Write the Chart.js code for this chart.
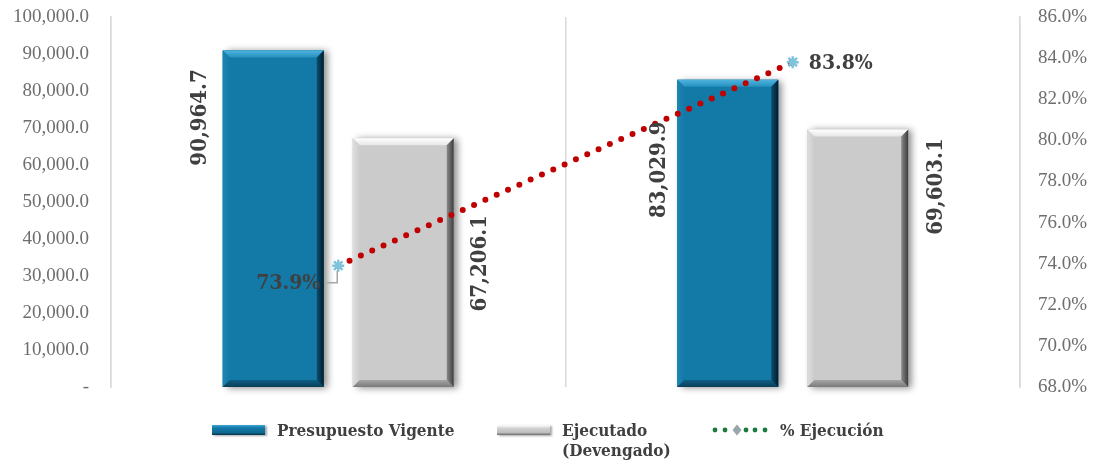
<!DOCTYPE html>
<html>
<head>
<meta charset="utf-8">
<script src="https://cdn.jsdelivr.net/npm/chart.js@4.4.1/dist/chart.umd.min.js"></script>
<style>
  html, body { margin: 0; padding: 0; background: #ffffff; }
  #wrap { position: relative; width: 1095px; height: 464px; }
  #c { position: absolute; left: 0; top: 0; }
  .lg { position: absolute; font-family: "DejaVu Serif Condensed", "DejaVu Serif", serif; font-weight: bold; font-size: 17px; color: #404040; line-height: 20px; white-space: nowrap; }
  .sw { position: absolute; width: 53px; height: 10px; }
</style>
</head>
<body>
<div id="wrap">
  <canvas id="c" width="1095" height="464"></canvas>
  <div class="sw" style="left:212px;top:425px;background:linear-gradient(to bottom,#3aa6d4 0,#1479a8 30%,#0f6a94 75%,#063348 100%);box-shadow:2px 1px 2px rgba(0,0,0,0.35);"></div>
  <div class="lg" style="left:277px;top:420px;">Presupuesto Vigente</div>
  <div class="sw" style="left:497px;top:425px;background:linear-gradient(to bottom,#ffffff 0,#d0d0d0 35%,#bdbdbd 75%,#6a6a6a 100%);box-shadow:2px 1px 2px rgba(0,0,0,0.35);"></div>
  <div class="lg" style="left:562px;top:420px;">Ejecutado<br>(Devengado)</div>
  <svg style="position:absolute;left:710px;top:423px;" width="62" height="14">
    <circle cx="5" cy="7" r="2.4" fill="#1a7a3a"/>
    <circle cx="15" cy="7" r="2.4" fill="#1a7a3a"/>
    <circle cx="45" cy="7" r="2.4" fill="#1a7a3a"/>
    <circle cx="55" cy="7" r="2.4" fill="#1a7a3a"/>
    <circle cx="36" cy="7" r="2.4" fill="#1a7a3a"/>
    <path d="M27 1.5 L31.5 7 L27 12.5 L22.5 7 Z" fill="#9aa6ad"/>
  </svg>
  <div class="lg" style="left:780px;top:420px;">% Ejecución</div>
</div>
<script>
// ---- data ----
const categories = ['Periodo 1', 'Periodo 2'];
const presupuestoVigente = [90964.7, 83029.9];
const ejecutadoDevengado = [67206.1, 69603.1];
const porcentajeEjecucion = [73.9, 83.8];
const leftTicks = [0, 10000, 20000, 30000, 40000, 50000, 60000, 70000, 80000, 90000, 100000];
const rightTicks = [68, 70, 72, 74, 76, 78, 80, 82, 84, 86];

// ---- style (label placement relative to marks) ----
const barLabelOffsets = [
  [[-73, 67], [-68, 90]],   // presupuesto: [dx from bar center, dy from bar top]
  [[77, 125], [79, 57]]     // ejecutado
];
const pctLabelOffsets = [[-50, 18], [48, 1]];

function fmtNum(v) {
  return v.toLocaleString('en-US', { minimumFractionDigits: 1, maximumFractionDigits: 1 });
}

const bevelPlugin = {
  id: 'bevel',
  beforeDatasetDraw(chart, args) {
    const ds = chart.data.datasets[args.index];
    if (ds.type !== 'bar') return;
    const ctx = chart.ctx;
    args.meta.data.forEach(el => {
      const l = el.x - el.width / 2, t = el.y, w = el.width, h = el.base - el.y;
      ctx.save();
      ctx.shadowColor = 'rgba(0,0,0,0.45)';
      ctx.shadowBlur = 7;
      ctx.shadowOffsetX = 4;
      ctx.shadowOffsetY = 1;
      ctx.fillStyle = ds.backgroundColor;
      ctx.fillRect(l, t, w, h);
      ctx.restore();
    });
  },
  afterDatasetDraw(chart, args) {
    const ds = chart.data.datasets[args.index];
    if (ds.type !== 'bar') return;
    const ctx = chart.ctx;
    const b = 7;
    const c = ds.bevel;
    args.meta.data.forEach(el => {
      const l = el.x - el.width / 2, r = el.x + el.width / 2, t = el.y, bo = el.base;
      ctx.save();
      let g = ctx.createLinearGradient(0, t, 0, t + b);
      g.addColorStop(0, c.top0); g.addColorStop(1, c.top1);
      ctx.fillStyle = g;
      ctx.beginPath(); ctx.moveTo(l, t); ctx.lineTo(r, t); ctx.lineTo(r - b, t + b); ctx.lineTo(l + b, t + b); ctx.closePath(); ctx.fill();
      g = ctx.createLinearGradient(l, 0, l + b, 0);
      g.addColorStop(0, c.left0); g.addColorStop(1, c.left1);
      ctx.fillStyle = g;
      ctx.beginPath(); ctx.moveTo(l, t); ctx.lineTo(l + b, t + b); ctx.lineTo(l + b, bo - b); ctx.lineTo(l, bo); ctx.closePath(); ctx.fill();
      g = ctx.createLinearGradient(0, bo - b, 0, bo);
      g.addColorStop(0, c.bot0); g.addColorStop(1, c.bot1);
      ctx.fillStyle = g;
      ctx.beginPath(); ctx.moveTo(l, bo); ctx.lineTo(l + b, bo - b); ctx.lineTo(r - b, bo - b); ctx.lineTo(r, bo); ctx.closePath(); ctx.fill();
      g = ctx.createLinearGradient(r - b, 0, r, 0);
      g.addColorStop(0, c.right0); g.addColorStop(1, c.right1);
      ctx.fillStyle = g;
      ctx.beginPath(); ctx.moveTo(r, t); ctx.lineTo(r, bo); ctx.lineTo(r - b, bo - b); ctx.lineTo(r - b, t + b); ctx.closePath(); ctx.fill();
      ctx.restore();
    });
  }
};

const labelPlugin = {
  id: 'labels',
  afterDatasetsDraw(chart) {
    const ctx = chart.ctx;
    ctx.save();
    ctx.fillStyle = '#404040';
    ctx.textAlign = 'center';
    ctx.textBaseline = 'middle';
    [0, 1].forEach(di => {
      const meta = chart.getDatasetMeta(di);
      meta.data.forEach((el, i) => {
        const off = barLabelOffsets[di][i];
        const v = chart.data.datasets[di].data[i];
        ctx.save();
        ctx.translate(el.x + off[0], el.y + off[1]);
        ctx.rotate(-Math.PI / 2);
        ctx.font = 'bold 22px "DejaVu Serif Condensed", "DejaVu Serif", serif';
        ctx.fillText(fmtNum(v), 0, 0);
        ctx.restore();
      });
    });
    const lm = chart.getDatasetMeta(2);
    lm.data.forEach((el, i) => {
      const off = pctLabelOffsets[i];
      const v = chart.data.datasets[2].data[i];
      const tx = el.x + off[0], ty = el.y + off[1];
      if (i === 0) {
        ctx.strokeStyle = '#a6a6a6';
        ctx.lineWidth = 1.5;
        ctx.beginPath();
        ctx.moveTo(tx + 39, ty - 1);
        ctx.lineTo(el.x - 1, ty - 1);
        ctx.lineTo(el.x - 1, el.y + 5);
        ctx.stroke();
      }
      ctx.font = 'bold 21px "DejaVu Serif Condensed", "DejaVu Serif", serif';
      ctx.fillStyle = '#404040';
      ctx.fillText(v.toFixed(1) + '%', tx, ty);
    });
    ctx.restore();
  }
};

function fixY(width) {
  return function (s) { s.width = width; s.paddingTop = 0; s.paddingBottom = 0; };
}

new Chart(document.getElementById('c'), {
  data: {
    labels: categories,
    datasets: [
      {
        type: 'bar', label: 'Presupuesto Vigente', data: presupuestoVigente, yAxisID: 'y',
        backgroundColor: '#1379a7', borderWidth: 0, order: 2,
        categoryPercentage: 0.572, barPercentage: 0.777,
        bevel: { top0: '#4fb4de', top1: '#2590bf', left0: '#1d86b4', left1: '#1479a8', bot0: '#0f5f86', bot1: '#093e59', right0: '#0a4f72', right1: '#031c29' }
      },
      {
        type: 'bar', label: 'Ejecutado (Devengado)', data: ejecutadoDevengado, yAxisID: 'y',
        backgroundColor: '#cbcbcb', borderWidth: 0, order: 2,
        categoryPercentage: 0.572, barPercentage: 0.777,
        bevel: { top0: '#ffffff', top1: '#e6e6e6', left0: '#dedede', left1: '#cccccc', bot0: '#a5a5a5', bot1: '#7a7a7a', right0: '#8a8a8a', right1: '#3c3c3c' }
      },
      {
        type: 'line', label: '% Ejecución', data: porcentajeEjecucion, yAxisID: 'y1',
        borderColor: '#c00000', borderWidth: 6, borderDash: [0, 12.4], borderCapStyle: 'round',
        pointStyle: 'star', pointRadius: 6, pointBorderWidth: 2.5,
        pointBorderColor: '#7ec3dc', pointBackgroundColor: '#7ec3dc',
        fill: false, order: 0, tension: 0
      }
    ]
  },
  options: {
    responsive: false,
    animation: false,
    devicePixelRatio: 1,
    layout: { padding: { top: 17, bottom: 77, left: 0, right: 0 } },
    plugins: { legend: { display: false }, tooltip: { enabled: false } },
    scales: {
      x: {
        type: 'category', offset: true,
        ticks: { display: false },
        grid: { display: true, offset: true, color: '#d9d9d9', lineWidth: 1.5, drawTicks: false },
        border: { display: false }
      },
      y: {
        position: 'left', min: 0, max: 100000,
        afterBuildTicks(s) { s.ticks = leftTicks.map(v => ({ value: v })); },
        afterFit: fixY(111),
        ticks: {
          padding: 22, color: '#6e6e6e',
          font: { family: '"Liberation Serif", serif', size: 19 },
          callback: v => v === 0 ? '-' : fmtNum(v)
        },
        grid: { display: false, drawTicks: false },
        border: { display: true, color: '#d9d9d9', width: 1.5 }
      },
      y1: {
        position: 'right', min: 68, max: 86,
        afterBuildTicks(s) { s.ticks = rightTicks.map(v => ({ value: v })); },
        afterFit: fixY(75),
        ticks: {
          padding: 18, color: '#6e6e6e',
          font: { family: '"Liberation Serif", serif', size: 19 },
          callback: v => v.toFixed(1) + '%'
        },
        grid: { display: false, drawTicks: false },
        border: { display: true, color: '#d9d9d9', width: 1.5 }
      }
    }
  },
  plugins: [bevelPlugin, labelPlugin]
});
</script>
</body>
</html>
